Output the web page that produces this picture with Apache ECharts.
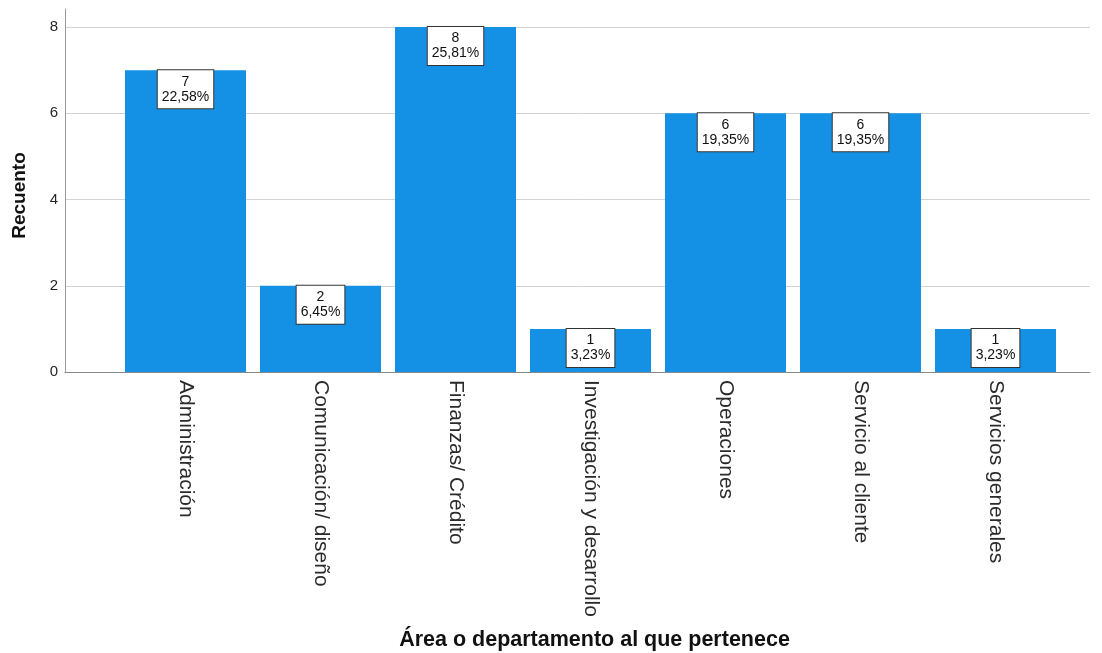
<!DOCTYPE html>
<html>
<head>
<meta charset="utf-8">
<title>Área o departamento al que pertenece</title>
<script src="https://cdn.jsdelivr.net/npm/echarts@6/dist/echarts.min.js"></script>
<style>
  html, body { margin: 0; padding: 0; background: #ffffff; }
  #chart { width: 1102px; height: 653px; }
</style>
</head>
<body>
<div id="chart"></div>
<script>
// Departments and their respondent counts
const categories = [
  'Administración',
  'Comunicación/ diseño',
  'Finanzas/ Crédito',
  'Investigación y desarrollo',
  'Operaciones',
  'Servicio al cliente',
  'Servicios generales'
];
const counts = [7, 2, 8, 1, 6, 6, 1];
const percents = ['22,58%', '6,45%', '25,81%', '3,23%', '19,35%', '19,35%', '3,23%'];
const yTicks = [0, 2, 4, 6, 8];

const FONT = 'Liberation Sans, Arial, sans-serif';
const Y_MAX = 8.42;

const chart = echarts.init(document.getElementById('chart'), null, { renderer: 'canvas' });

const option = {
  backgroundColor: '#ffffff',
  animation: false,
  grid: [
    // frame: axis lines and gridlines
    { left: 65, right: 12, top: 9, bottom: 281, containLabel: false, outerBoundsMode: 'none' },
    // bars
    { left: 118, right: 39, top: 9, bottom: 281, containLabel: false, outerBoundsMode: 'none' }
  ],
  xAxis: [
    {
      gridIndex: 0,
      type: 'value',
      min: 0,
      max: 1,
      axisLine: { show: true, onZero: false, lineStyle: { color: '#8a8a8a', width: 1 } },
      axisTick: { show: false },
      axisLabel: { show: false },
      splitLine: { show: false }
    },
    {
      gridIndex: 1,
      type: 'category',
      data: categories,
      axisLine: { show: false },
      axisTick: { show: false },
      axisLabel: {
        rotate: -90,
        margin: 8,
        interval: 0,
        fontFamily: FONT,
        fontSize: 21,
        color: '#2a2a2a'
      },
      name: 'Área o departamento al que pertenece',
      nameLocation: 'middle',
      nameGap: 257,
      nameTextStyle: {
        fontFamily: FONT,
        fontSize: 21.5,
        fontWeight: 'bold',
        color: '#111111',
        padding: [0, 0, 0, 8]
      }
    }
  ],
  yAxis: [
    {
      gridIndex: 0,
      type: 'value',
      min: 0,
      max: Y_MAX,
      interval: 2,
      axisLine: { show: true, lineStyle: { color: '#9a9a9a', width: 1 } },
      axisTick: { show: false },
      axisLabel: {
        margin: 7,
        fontFamily: FONT,
        fontSize: 15,
        color: '#262626',
        showMaxLabel: false,
        formatter: function (v) { return yTicks.indexOf(v) >= 0 ? String(v) : ''; }
      },
      splitLine: {
        show: true,
        lineStyle: {
          color: ['#d2d2d2', '#d2d2d2', '#d2d2d2', '#d2d2d2', '#d2d2d2', 'rgba(0,0,0,0)'],
          width: 1
        }
      },
      name: 'Recuento',
      nameLocation: 'middle',
      nameRotate: 90,
      nameGap: 36,
      nameTextStyle: {
        fontFamily: FONT,
        fontSize: 19,
        fontWeight: 'bold',
        color: '#111111',
        padding: [0, 10, 0, 0]
      }
    },
    {
      gridIndex: 1,
      type: 'value',
      min: 0,
      max: Y_MAX,
      show: false
    }
  ],
  series: [
    {
      type: 'bar',
      xAxisIndex: 1,
      yAxisIndex: 1,
      data: counts,
      barWidth: 121,
      itemStyle: { color: '#1490e5' },
      label: {
        show: true,
        position: 'insideTop',
        distance: 0,
        formatter: function (p) { return p.value + '\n' + percents[p.dataIndex]; },
        fontFamily: FONT,
        fontSize: 14,
        lineHeight: 15,
        color: '#111111',
        backgroundColor: '#ffffff',
        borderColor: '#333333',
        borderWidth: 1,
        padding: [4, 4, 4, 4],
        align: 'center'
      }
    }
  ]
};

chart.setOption(option);
</script>
</body>
</html>
